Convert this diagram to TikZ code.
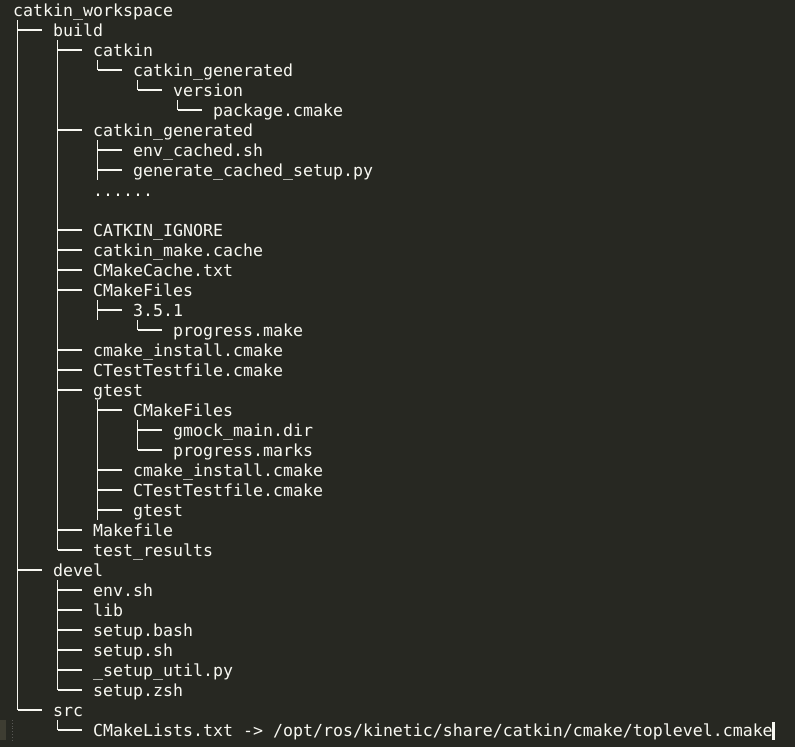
\documentclass[tikz,border=0pt]{standalone}
\usepackage{fontspec}
\newfontfamily\termfont{DejaVu Sans Mono}
\usetikzlibrary{calc}
\definecolor{bg}{HTML}{272822}
\definecolor{fg}{HTML}{F8F8F2}
\definecolor{gut}{HTML}{3E3D32}
\tikzset{
  txt/.style={anchor=base west,inner sep=0pt,text=fg,font=\termfont\fontsize{16.6}{20}\selectfont},
  tree/.style={draw=fg,line width=1.2pt}
}
\newcommand\ent[4]{%
  \node[txt] (#1) at ({13+10*#2},{16.5+20*#3}) {#4};
  \coordinate (#1-t) at ($(#1.base west)+(4.5,3.5)$);
  \coordinate (#1-m) at ($(#1.base west)+(-35.5,-6.5)$);
  \coordinate (#1-b) at ($(#1.base west)+(-35.5,3.5)$);
}
\newcommand\brn[1]{\draw[tree] (#1-m) -- ++(24.5,0);}
\begin{document}
\begin{tikzpicture}[x=1pt,y=-1pt]
\useasboundingbox (0,0) rectangle (795,747);
\fill[bg] (0,0) rectangle (795,747);
\ent{r0}{0}{0}{catkin\_workspace}
\ent{r1}{4}{1}{build}
\ent{r2}{8}{2}{catkin}
\ent{r3}{12}{3}{catkin\_generated}
\ent{r4}{16}{4}{version}
\ent{r5}{20}{5}{package.cmake}
\ent{r6}{8}{6}{catkin\_generated}
\ent{r7}{12}{7}{env\_cached.sh}
\ent{r8}{12}{8}{generate\_cached\_setup.py}
\ent{r9}{8}{9}{......}
\ent{r11}{8}{11}{CATKIN\_IGNORE}
\ent{r12}{8}{12}{catkin\_make.cache}
\ent{r13}{8}{13}{CMakeCache.txt}
\ent{r14}{8}{14}{CMakeFiles}
\ent{r15}{12}{15}{3.5.1}
\ent{r16}{16}{16}{progress.make}
\ent{r17}{8}{17}{cmake\_install.cmake}
\ent{r18}{8}{18}{CTestTestfile.cmake}
\ent{r19}{8}{19}{gtest}
\ent{r20}{12}{20}{CMakeFiles}
\ent{r21}{16}{21}{gmock\_main.dir}
\ent{r22}{16}{22}{progress.marks}
\ent{r23}{12}{23}{cmake\_install.cmake}
\ent{r24}{12}{24}{CTestTestfile.cmake}
\ent{r25}{12}{25}{gtest}
\ent{r26}{8}{26}{Makefile}
\ent{r27}{8}{27}{test\_results}
\ent{r28}{4}{28}{devel}
\ent{r29}{8}{29}{env.sh}
\ent{r30}{8}{30}{lib}
\ent{r31}{8}{31}{setup.bash}
\ent{r32}{8}{32}{setup.sh}
\ent{r33}{8}{33}{\_setup\_util.py}
\ent{r34}{8}{34}{setup.zsh}
\ent{r35}{4}{35}{src}
\ent{r36}{8}{36}{CMakeLists.txt -> /opt/ros/kinetic/share/catkin/cmake/toplevel.cmake}
% horizontal branches
\foreach \n in {r1,r2,r3,r4,r5,r6,r7,r8,r11,r12,r13,r14,r15,r16,r17,r18,r19,r20,r21,r22,r23,r24,r25,r26,r27,r28,r29,r30,r31,r32,r33,r34,r35,r36}{\brn{\n}}
% vertical spines
\draw[tree] (r0-t) -- (r35-m);
\draw[tree] (r1-t) -- (r27-m);
\draw[tree] (r2-t) -- (r3-m);
\draw[tree] (r3-t) -- (r4-m);
\draw[tree] (r4-t) -- (r5-m);
\draw[tree] (r6-t) -- (r8-b);
\draw[tree] (r14-t) -- (r15-b);
\draw[tree] (r15-t) -- (r16-m);
\draw[tree] (r19-t) -- (r25-b);
\draw[tree] (r20-t) -- (r22-m);
\draw[tree] (r28-t) -- (r34-m);
\draw[tree] (r35-t) -- (r36-m);
% editor gutter and cursor
\fill[gut] (0,720) rectangle (6,740);
\draw[gray!55!bg,dotted,line width=0.8pt] (12,720) -- (12,740);
\fill[fg] ($(r36.base east)+(-1,-14.5)$) rectangle ($(r36.base east)+(1.5,3.5)$);
\end{tikzpicture}
\end{document}
